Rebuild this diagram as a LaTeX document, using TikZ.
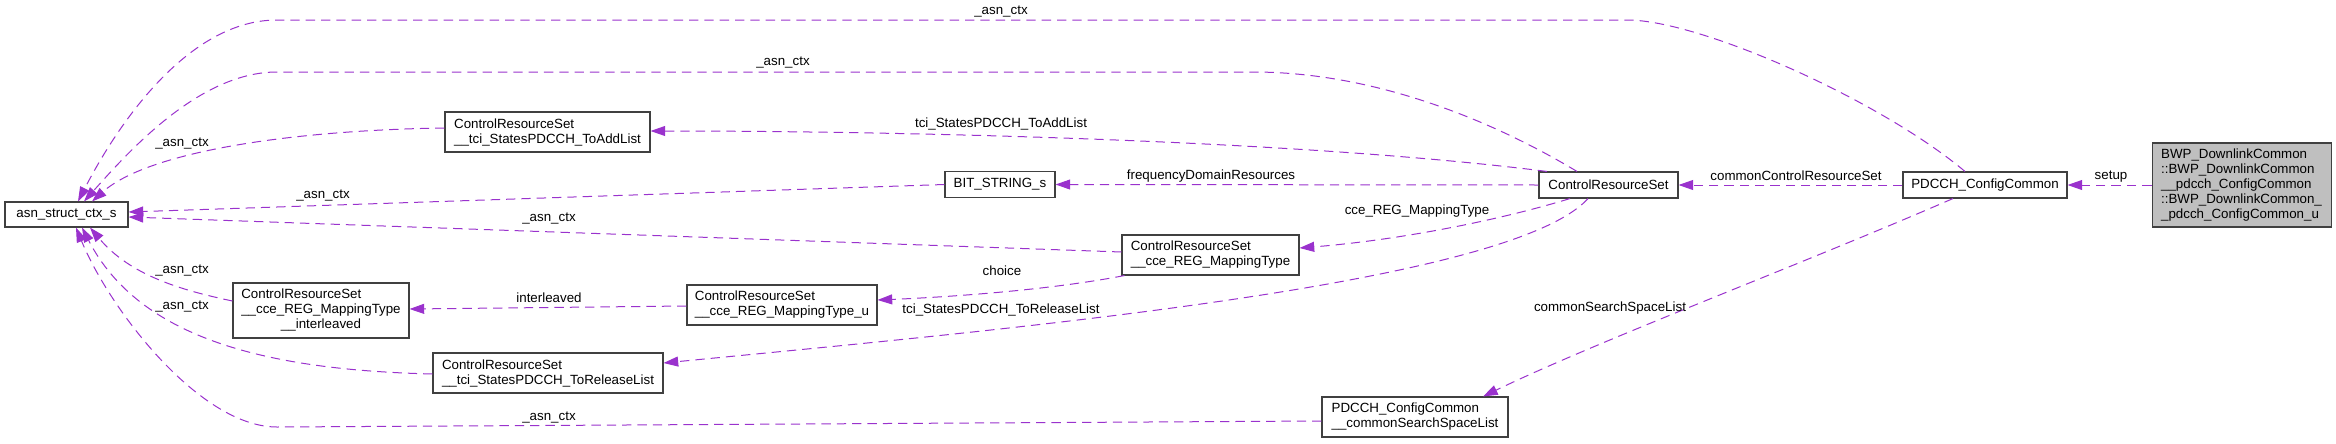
\documentclass[tikz,border=0pt]{standalone}
\usepackage{fontspec}
\setmainfont{Liberation Sans}
\usetikzlibrary{arrows.meta,calc}
\definecolor{edgec}{HTML}{9A32CD}
\definecolor{boxc}{HTML}{404040}
\definecolor{fillc}{HTML}{BFBFBF}
\tikzset{
  box/.style={draw=boxc, line width=0.8pt, rectangle, inner sep=0pt, align=left, fill=white},
  edge/.style={draw=edgec, line width=0.75pt, dash pattern=on 7pt off 4.5pt, -{Triangle[length=11pt,width=7.5pt]}},
  lbl/.style={inner sep=0pt}
}
\begin{document}
\begin{tikzpicture}[x=0.75pt, y=-0.75pt, font=\fontsize{10}{11.25}\selectfont]
\useasboundingbox (0,0) rectangle (2336,443);

% nodes
\node[box, minimum width=92.25pt, minimum height=18.75pt] (asn) at (66.5,214.5) {asn\_struct\_ctx\_s};
\node[box, minimum width=153.75pt, minimum height=30pt] (toadd) at (547.5,132) {ControlResourceSet\\\_\_tci\_StatesPDCCH\_ToAddList};
\node[box, minimum width=132pt, minimum height=41.25pt] (inter) at (321,310.5) {\begin{tabular}{@{}l@{}}ControlResourceSet\\\_\_cce\_REG\_MappingType\\\multicolumn{1}{@{}c@{}}{\_\_interleaved}\end{tabular}};
\node[box, minimum width=172.5pt, minimum height=30pt] (rel) at (548,373) {ControlResourceSet\\\_\_tci\_StatesPDCCH\_ToReleaseList};
\node[box, minimum width=142.5pt, minimum height=30pt] (u) at (782,305) {ControlResourceSet\\\_\_cce\_REG\_MappingType\_u};
\node[box, minimum width=82.5pt, minimum height=19.5pt] (bit) at (1000,184.5) {BIT\_STRING\_s};
\node[box, minimum width=132.75pt, minimum height=30pt] (cce) at (1210.5,255) {ControlResourceSet\\\_\_cce\_REG\_MappingType};
\node[box, minimum width=104.25pt, minimum height=19.5pt] (crs) at (1608.5,185) {ControlResourceSet};
\node[box, minimum width=139.5pt, minimum height=30pt] (cssl) at (1415,417) {PDCCH\_ConfigCommon\\\_\_commonSearchSpaceList};
\node[box, minimum width=123pt, minimum height=19.5pt] (pdcch) at (1985,185) {PDCCH\_ConfigCommon};
\node[box, fill=fillc, minimum width=134.25pt, minimum height=63pt] (bwp) at (2241.5,185) {BWP\_DownlinkCommon\\::BWP\_DownlinkCommon\\\_\_pdcch\_ConfigCommon\\::BWP\_DownlinkCommon\_\\\_pdcch\_ConfigCommon\_u};

% edges
\draw[edge] ($(pdcch.north)+(-20,0)$) .. controls (1880,100) and (1700,20) .. (1627,20) -- (277,20) .. controls (190,20) and (120,120) .. ($(asn.north)+(11.5,0)$);
\draw[edge] ($(crs.north)+(-31.5,0)$) .. controls (1500,125) and (1380,72) .. (1253,72) -- (277,72) .. controls (200,72) and (130,150) .. ($(asn.north)+(17.5,0)$);
\draw[edge] ($(toadd.west)+(0,-4)$) .. controls (300,130) and (150,150) .. ($(asn.north)+(25.5,0)$);
\draw[edge] (bit.west) -- ($(asn.east)+(0,-2.5)$);
\draw[edge] ($(cce.west)+(0,-3)$) -- ($(asn.east)+(0,2.5)$);
\draw[edge] ($(inter.west)+(0,-9.5)$) .. controls (180,290) and (130,275) .. ($(asn.south)+(23.5,0)$);
\draw[edge] ($(rel.west)+(0,1)$) .. controls (270,370) and (140,340) .. ($(asn.south)+(15.5,0)$);
\draw[edge] ($(cssl.west)+(0,4)$) -- (277,427) .. controls (200,427) and (110,310) .. ($(asn.south)+(9.5,0)$);
\draw[edge] ($(crs.north)+(-61.5,0)$) .. controls (1300,140) and (900,131) .. ($(toadd.east)+(0,-1)$);
\draw[edge] (crs.west) -- (bit.east);
\draw[edge] ($(crs.south)+(-38.5,0)$) .. controls (1500,220) and (1400,240) .. ($(cce.east)+(0,-7)$);
\draw[edge] ($(cce.south west)+(3,0)$) .. controls (1050,290) and (950,297) .. ($(u.east)+(0,-5)$);
\draw[edge] ($(u.west)+(0,1)$) -- ($(inter.east)+(0,-1.5)$);
\draw[edge] ($(crs.south)+(-20.5,0)$) .. controls (1510,285) and (1000,330) .. ($(rel.east)+(0,-10)$);
\draw[edge] (pdcch.west) -- (crs.east);
\draw[edge] ($(pdcch.south)+(-32,0)$) .. controls (1800,265) and (1600,340) .. ($(cssl.north)+(68,0)$);
\draw[edge] (bwp.west) -- (pdcch.east);

% labels
\node[lbl] (l1) at (1001,12) {\_asn\_ctx};
\node[lbl] (l2) at (783,63) {\_asn\_ctx};
\node[lbl] (l3) at (182,144) {\_asn\_ctx};
\node[lbl] (l4) at (323,196) {\_asn\_ctx};
\node[lbl] (l5) at (549,219) {\_asn\_ctx};
\node[lbl] (l6) at (182,271) {\_asn\_ctx};
\node[lbl] (l7) at (182,307) {\_asn\_ctx};
\node[lbl] (l8) at (549,418) {\_asn\_ctx};
\node[lbl] (l9) at (1001,124) {tci\_StatesPDCCH\_ToAddList};
\node[lbl] (l10) at (1211,176) {frequencyDomainResources};
\node[lbl] (l11) at (1417,211) {cce\_REG\_MappingType};
\node[lbl] (l12) at (1002,271) {choice};
\node[lbl] (l13) at (549,298) {interleaved};
\node[lbl] (l14) at (1001,310) {tci\_StatesPDCCH\_ToReleaseList};
\node[lbl] (l15) at (1796,176) {commonControlResourceSet};
\node[lbl] (l16) at (1610,308) {commonSearchSpaceList};
\node[lbl] (l17) at (2111,177) {setup};
\end{tikzpicture}
\end{document}
